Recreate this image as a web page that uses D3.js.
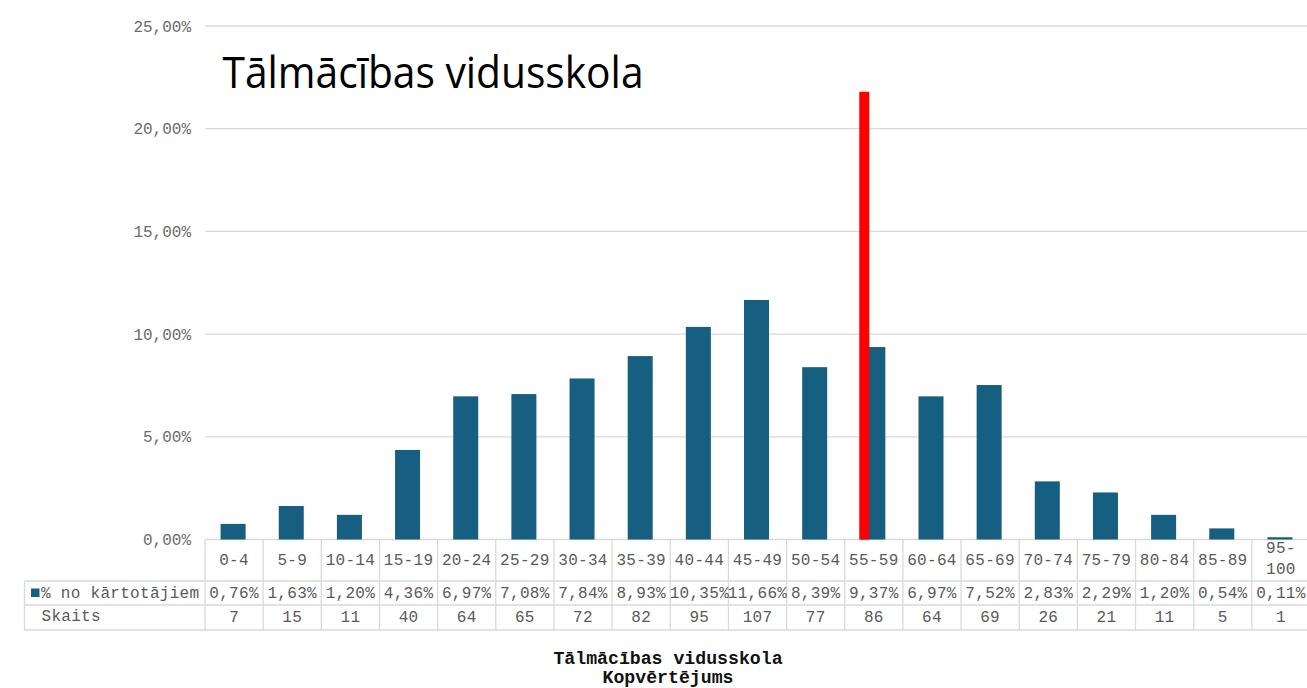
<!DOCTYPE html>
<html><head><meta charset="utf-8">
<script src="https://cdn.jsdelivr.net/npm/d3@7"></script>
<style>body{margin:0;background:#fff;}svg{display:block;}</style>
</head><body>
<svg id="c" width="1307" height="688"></svg>
<script>
const categories = ["0-4","5-9","10-14","15-19","20-24","25-29","30-34","35-39","40-44","45-49","50-54","55-59","60-64","65-69","70-74","75-79","80-84","85-89","95-100"];
const percentValues = [0.76,1.63,1.20,4.36,6.97,7.08,7.84,8.93,10.35,11.66,8.39,9.37,6.97,7.52,2.83,2.29,1.20,0.54,0.11];
const counts = [7,15,11,40,64,65,72,82,95,107,77,86,64,69,26,21,11,5,1];
const yTicks = [0,5,10,15,20,25];
const seriesName = "% no kārtotājiem";
const countName = "Skaits";
const markerCategory = "55-59";
const markerValue = 21.8;
const overlayTitle = "Tālmācības vidusskola";
const bottomTitle = ["Tālmācības vidusskola","Kopvērtējums"];

const svg = d3.select("#c");
const mono = "'Liberation Mono', 'DejaVu Sans Mono', monospace";
const barColor = "#175f80";
const gridColor = "#d9d9d9";

const x = d3.scaleBand().domain(categories).range([205, 1310]).padding(0);
const y = d3.scaleLinear().domain([0,25]).range([539.5, 26]);
const bw = x.bandwidth();
const fmt = v => d3.format(".2f")(v).replace(".", ",") + "%";

// gridlines
svg.append("g").selectAll("line").data(yTicks).join("line")
  .attr("x1", 205).attr("x2", 1307)
  .attr("y1", d => y(d)).attr("y2", d => y(d))
  .attr("stroke", gridColor).attr("stroke-width", 1.3);

// y axis labels
const yAxis = d3.axisLeft(y).tickValues(yTicks).tickSize(0).tickPadding(0).tickFormat(fmt);
const ga = svg.append("g").attr("transform", "translate(191,0)").call(yAxis);
ga.select(".domain").remove();
ga.selectAll("text").attr("font-family", mono).attr("font-size", 16).attr("fill", "#6b6b6b")
  .attr("dy", "0.32em");

// bars
svg.append("g").selectAll("rect").data(categories).join("rect")
  .attr("x", d => x(d) + bw*0.268).attr("width", bw*0.43)
  .attr("y", (d,i) => y(percentValues[i]))
  .attr("height", (d,i) => y(0) - y(percentValues[i]))
  .attr("fill", barColor);

// red marker
svg.append("rect")
  .attr("x", x(markerCategory) + bw*0.25).attr("width", 10)
  .attr("y", y(markerValue)).attr("height", y(0) - y(markerValue))
  .attr("fill", "#ff0000");

// overlay title
svg.append("text").text(overlayTitle)
  .attr("x", 222.5).attr("y", 88)
  .attr("font-family", "'Open Sans', 'Noto Sans', sans-serif")
  .attr("font-size", 43).attr("fill", "#000")
  .attr("textLength", 421).attr("lengthAdjust", "spacingAndGlyphs");

// table
const tY0 = 540, tY1 = 581, tY2 = 605, tY3 = 630, tX0 = 24.5;
const tbl = svg.append("g").attr("stroke", gridColor).attr("stroke-width", 1.3);
tbl.append("line").attr("x1", tX0).attr("x2", 1307).attr("y1", tY1).attr("y2", tY1);
tbl.append("line").attr("x1", tX0).attr("x2", 1307).attr("y1", tY2).attr("y2", tY2);
tbl.append("line").attr("x1", tX0).attr("x2", 1307).attr("y1", tY3).attr("y2", tY3);
tbl.append("line").attr("x1", tX0).attr("x2", tX0).attr("y1", tY1).attr("y2", tY3);
tbl.selectAll(".vl").data(categories).join("line")
  .attr("x1", d => x(d)).attr("x2", d => x(d))
  .attr("y1", tY0).attr("y2", tY3);

const tg = svg.append("g").attr("font-family", mono).attr("font-size", 16).attr("fill", "#5a5a5a")
  .attr("text-anchor", "middle").attr("letter-spacing", 0.3);
categories.forEach((c, i) => {
  const cx = x(c) + bw/2;
  const parts = c === "95-100" ? ["95-","100"] : [c];
  if (parts.length === 1) {
    tg.append("text").attr("x", cx).attr("y", 565).text(parts[0]);
  } else {
    tg.append("text").attr("x", cx).attr("y", 553).text(parts[0]);
    tg.append("text").attr("x", cx).attr("y", 574).text(parts[1]);
  }
  tg.append("text").attr("x", cx).attr("y", 598).text(fmt(percentValues[i]));
  tg.append("text").attr("x", cx).attr("y", 622).text(counts[i]);
});
svg.append("rect").attr("x", 31).attr("y", 588.5).attr("width", 8.5).attr("height", 8.5).attr("fill", barColor);
svg.append("text").attr("x", 41).attr("y", 598).text(seriesName)
  .attr("font-family", mono).attr("font-size", 16).attr("letter-spacing", 0.3).attr("fill", "#5a5a5a");
svg.append("text").attr("x", 41.5).attr("y", 621).text(countName)
  .attr("font-family", mono).attr("font-size", 16).attr("letter-spacing", 0.3).attr("fill", "#5a5a5a");

// bottom title
svg.append("g").selectAll("text").data(bottomTitle).join("text")
  .attr("x", 668).attr("y", (d,i) => 664 + i*19)
  .attr("text-anchor", "middle").attr("font-family", mono).attr("font-weight", "bold")
  .attr("font-size", 18.2).attr("fill", "#111").text(d => d);
</script>
</body></html>
